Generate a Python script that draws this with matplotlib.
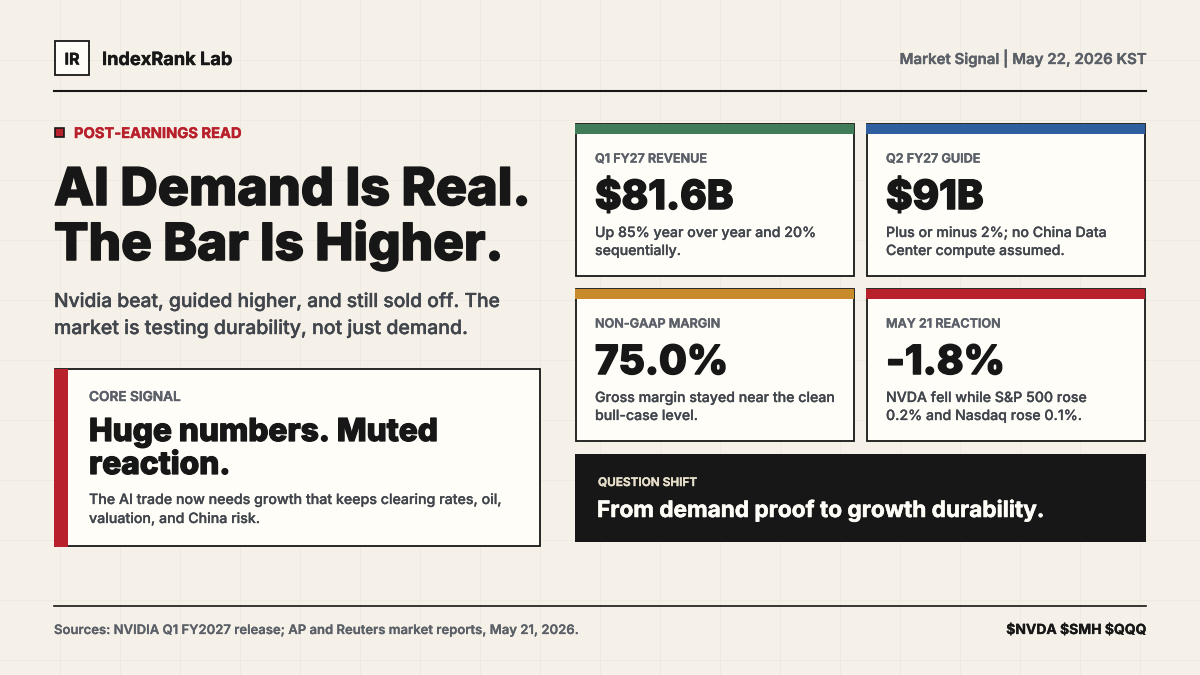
#!/usr/bin/env python3
"""Market signal card, drawn in pixel coordinates."""
import matplotlib
matplotlib.use('Agg')
import matplotlib.pyplot as plt
import matplotlib.patheffects as pe
from matplotlib.patches import Rectangle

plt.rcParams['font.family'] = ['Inter', 'DejaVu Sans']

C_BG = '#F5F1E8'
C_GRID = '#EEEAE1'
C_INK = '#171717'
C_CARD = '#FFFDF8'
C_GRAY = '#5B6068'
C_TEXT = '#41454C'
C_RED = '#B8202B'

card_labels = ['Q1 FY27 REVENUE', 'Q2 FY27 GUIDE', 'NON-GAAP MARGIN', 'MAY 21 REACTION']
card_values = ['$81.6B', '$91B', '75.0%', '-1.8%']
card_notes = ['Up 85% year over year and 20%\nsequentially.',
              'Plus or minus 2%; no China Data\nCenter compute assumed.',
              'Gross margin stayed near the clean\nbull-case level.',
              'NVDA fell while S&P 500 rose\n0.2% and Nasdaq rose 0.1%.']
card_colors = ['#3F7D58', '#2F5F9E', '#C98A2B', '#B8202B']
card_x = [576, 867, 576, 867]
card_y = [124, 124, 289, 289]
CARD_W, CARD_H = 277.5, 152


def px(size):
    return size * 0.72


def put(ax, x, y, s, size, color=C_INK, weight='normal', ha='left', stroke=0):
    t = ax.text(x, y, s, fontsize=px(size), color=color, fontweight=weight,
                ha=ha, va='baseline', zorder=5)
    # installed Inter tops out lighter than the reference, so fatten it a bit
    if stroke:
        t.set_path_effects([pe.withStroke(linewidth=stroke, foreground=color)])
    return t


def box(ax, x, y, w, h, face, edge='none', lw=0, zorder=2):
    ax.add_patch(Rectangle((x, y), w, h, facecolor=face, edgecolor=edge, linewidth=lw, zorder=zorder))


def main():
    fig = plt.figure(figsize=(12, 6.75), dpi=100)
    ax = fig.add_axes([0, 0, 1, 1])
    ax.set_xlim(0, 1200)
    ax.set_ylim(675, 0)
    ax.axis('off')
    fig.patch.set_facecolor(C_BG)

    # faint background grid, every 60 px
    for gx in range(60, 1200, 60):
        ax.plot([gx, gx], [0, 675], color=C_GRID, lw=0.7, zorder=1)
    for gy in range(60, 675, 60):
        ax.plot([0, 1200], [gy, gy], color=C_GRID, lw=0.7, zorder=1)

    # header
    box(ax, 55, 41, 34, 34, C_CARD, C_INK, 1.3)
    put(ax, 72, 64.5, 'IR', 16, weight='bold', ha='center', stroke=0.3)
    put(ax, 102, 65, 'IndexRank Lab', 18.2, weight='bold', stroke=0.3)
    put(ax, 1146, 64, 'Market Signal | May 22, 2026 KST', 15, color=C_GRAY, weight='semibold', ha='right', stroke=0.25)
    ax.plot([54, 1146], [91, 91], color=C_INK, lw=1.5, zorder=3)

    # left column
    box(ax, 55, 128, 9, 9, C_RED, C_INK, 1.2)
    put(ax, 74, 138, 'POST-EARNINGS READ', 14.7, color=C_RED, weight='bold', stroke=0.3)
    put(ax, 54, 205, 'AI Demand Is Real.', 52, weight='heavy', stroke=1.1)
    put(ax, 54, 260, 'The Bar Is Higher.', 51.2, weight='heavy', stroke=1.1)
    put(ax, 54, 307, 'Nvidia beat, guided higher, and still sold off. The', 19.25, color=C_TEXT, weight='medium', stroke=0.3)
    put(ax, 54, 334, 'market is testing durability, not just demand.', 19.5, color=C_TEXT, weight='medium', stroke=0.3)

    # core signal box
    box(ax, 55, 369, 485, 177, C_CARD, C_INK, 1.3)
    box(ax, 54, 369, 14, 178, C_RED, zorder=3)
    put(ax, 89, 401, 'CORE SIGNAL', 13.6, color=C_GRAY, weight='semibold', stroke=0.3)
    put(ax, 89, 441, 'Huge numbers. Muted', 31.6, weight='heavy', stroke=0.9)
    put(ax, 89, 474, 'reaction.', 31.6, weight='heavy', stroke=0.9)
    put(ax, 89, 504, 'The AI trade now needs growth that keeps clearing rates, oil,', 14.2, color=C_TEXT, weight='medium', stroke=0.2)
    put(ax, 89, 523, 'valuation, and China risk.', 14.2, color=C_TEXT, weight='medium', stroke=0.2)

    # metric cards
    for x, y, label, value, note, color in zip(card_x, card_y, card_labels, card_values, card_notes, card_colors):
        box(ax, x, y, CARD_W, CARD_H, C_CARD, C_INK, 1.3)
        box(ax, x - 0.7, y, CARD_W + 1.4, 10, color, zorder=3)
        put(ax, x + 19, y + 38.5, label, 12.6, color=C_GRAY, weight='semibold', stroke=0.3)
        put(ax, x + 19, y + 85, value, 40.2, weight='heavy', stroke=1.1)
        lines = note.split('\n')
        put(ax, x + 19, y + 113, lines[0], 14.15, color=C_TEXT, weight='medium', stroke=0.2)
        put(ax, x + 19, y + 131, lines[1], 14.15, color=C_TEXT, weight='medium', stroke=0.2)

    # question shift
    box(ax, 575, 454, 571, 88, C_INK)
    put(ax, 598, 486, 'QUESTION SHIFT', 11.8, color='#E8DFCB', weight='semibold', stroke=0.3)
    put(ax, 597, 517, 'From demand proof to growth durability.', 22.6, color='#FFFDF8', weight='bold', stroke=0.4)

    # footer
    ax.plot([54, 1146], [606, 606], color=C_INK, lw=1.2, zorder=3)
    put(ax, 54, 634, 'Sources: NVIDIA Q1 FY2027 release; AP and Reuters market reports, May 21, 2026.', 13.07, color=C_GRAY, weight='semibold', stroke=0.15)
    put(ax, 1146, 634, '$NVDA $SMH $QQQ', 13.9, weight='bold', ha='right', stroke=0.2)

    fig.savefig('out.png', dpi=100, facecolor=C_BG)
    plt.close(fig)


if __name__ == "__main__":
    main()
